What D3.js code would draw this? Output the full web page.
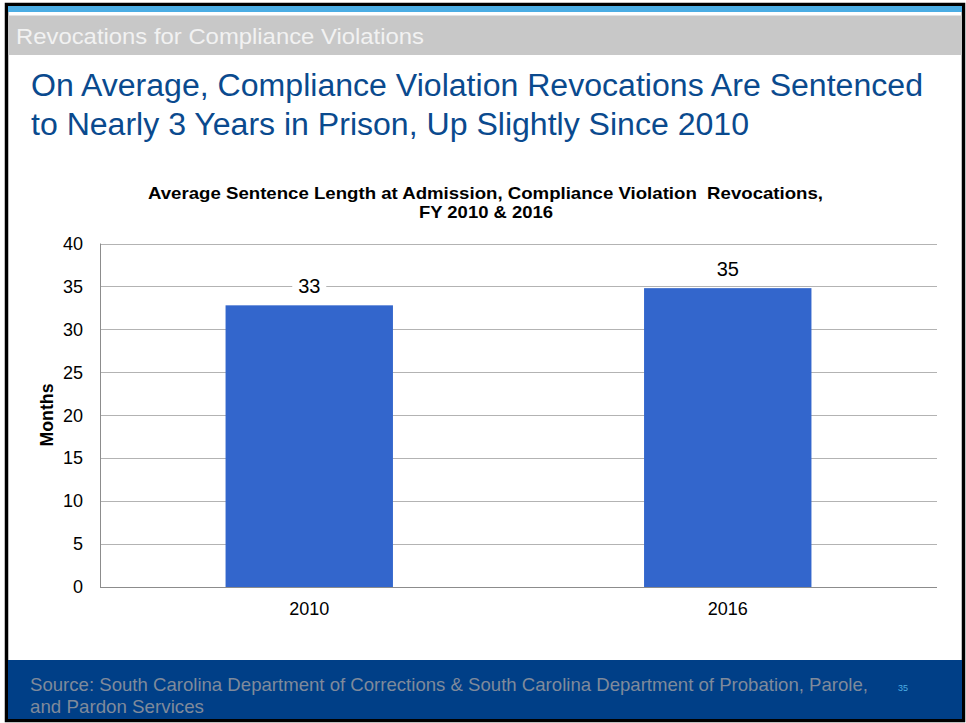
<!DOCTYPE html>
<html><head><meta charset="utf-8">
<script src="https://cdn.jsdelivr.net/npm/d3@7"></script>
<style>body{margin:0;background:#fff}svg{display:block;font-family:"Liberation Sans",Arial,sans-serif}</style>
</head><body>
<script>
const categories = ["2010", "2016"];
const values = [32.8, 34.8];
const labels = ["33", "35"];
const yTicks = [0, 5, 10, 15, 20, 25, 30, 35, 40];

const W = 966, H = 723;
const svg = d3.select("body").append("svg").attr("width", W).attr("height", H);

function fit(sel, len) { return sel.attr("textLength", len).attr("lengthAdjust", "spacingAndGlyphs"); }

// slide frame
svg.append("rect").attr("x", 0).attr("y", 0).attr("width", W).attr("height", H).attr("fill", "#fff");
svg.append("rect").attr("x", 6.5).attr("y", 4.5).attr("width", 957).attr("height", 716).attr("fill", "none").attr("stroke", "#000").attr("stroke-width", 3.5);
svg.append("rect").attr("x", 8).attr("y", 6).attr("width", 954).attr("height", 6).attr("fill", "#4badE4");
svg.append("rect").attr("x", 8).attr("y", 15.5).attr("width", 954).attr("height", 39.5).attr("fill", "#c8c8c8");
fit(svg.append("text").attr("x", 16).attr("y", 44).attr("font-size", 22).attr("fill", "#f2f2f2")
  .text("Revocations for Compliance Violations"), 408);

// title
const title = svg.append("g").attr("font-size", 31).attr("fill", "#0a4a8e");
fit(title.append("text").attr("x", 31).attr("y", 96).text("On Average, Compliance Violation Revocations Are Sentenced"), 892);
fit(title.append("text").attr("x", 31).attr("y", 135).text("to Nearly 3 Years in Prison, Up Slightly Since 2010"), 718);

// footer
svg.append("rect").attr("x", 8).attr("y", 660).attr("width", 954).attr("height", 59).attr("fill", "#003f87");
const foot = svg.append("g").attr("font-size", 18.5).attr("fill", "#7f8a9b");
fit(foot.append("text").attr("x", 30).attr("y", 691).text("Source: South Carolina Department of Corrections & South Carolina Department of Probation, Parole,"), 838);
fit(foot.append("text").attr("x", 30).attr("y", 713).text("and Pardon Services"), 174);
svg.append("text").attr("x", 898).attr("y", 691).attr("font-size", 9).attr("fill", "#4badE4").text("35");

// chart
const pL = 100, pR = 937, pT = 243.5, pB = 587;
const x = d3.scaleBand().domain(categories).range([pL, pR]).padding(0);
const y = d3.scaleLinear().domain([0, 40]).range([pB, pT]);

const ct = svg.append("g").attr("font-size", 17).attr("font-weight", "bold").attr("fill", "#000");
fit(ct.append("text").attr("x", 148).attr("y", 199).style("white-space", "pre")
  .text("Average Sentence Length at Admission, Compliance Violation  Revocations,"), 675);
fit(ct.append("text").attr("x", 419).attr("y", 217.5).text("FY 2010 & 2016"), 134);

// gridlines
svg.append("g").selectAll("line").data(yTicks.filter(d => d > 0)).join("line")
  .attr("x1", pL).attr("x2", pR).attr("y1", d => Math.round(y(d)) + 0.5).attr("y2", d => Math.round(y(d)) + 0.5)
  .attr("stroke", "#b3b3b3").attr("stroke-width", 1);

// y axis
const yAxis = svg.append("g").attr("transform", `translate(${pL},0)`)
  .call(d3.axisLeft(y).tickValues(yTicks).tickSize(0).tickPadding(17));
yAxis.select(".domain").remove();
yAxis.selectAll("text").attr("font-size", 18).attr("fill", "#000").attr("font-family", "Liberation Sans, Arial, sans-serif");

// bars
const barW = x.bandwidth() * 0.4;
svg.append("g").selectAll("rect").data(categories).join("rect")
  .attr("x", d => x(d) + (x.bandwidth() - barW) / 2)
  .attr("y", (d, i) => y(values[i]))
  .attr("width", barW)
  .attr("height", (d, i) => pB - y(values[i]))
  .attr("fill", "#3366cc");

// axis lines
svg.append("line").attr("x1", pL + 0.5).attr("x2", pL + 0.5).attr("y1", pT).attr("y2", pB).attr("stroke", "#8c8c8c");
svg.append("line").attr("x1", pL).attr("x2", pR).attr("y1", pB + 0.5).attr("y2", pB + 0.5).attr("stroke", "#8c8c8c");

// x axis
const xAxis = svg.append("g").attr("transform", `translate(0,${pB})`)
  .call(d3.axisBottom(x).tickSize(0).tickPadding(15));
xAxis.select(".domain").remove();
xAxis.selectAll("text").attr("font-size", 18).attr("fill", "#000").attr("font-family", "Liberation Sans, Arial, sans-serif");

// data labels with white background
const lab = svg.append("g").selectAll("g").data(categories).join("g")
  .attr("transform", (d, i) => `translate(${x(d) + x.bandwidth() / 2},${y(values[i]) - 12})`);
lab.append("rect").attr("x", -17).attr("y", -18).attr("width", 34).attr("height", 23).attr("fill", "#fff");
lab.append("text").attr("text-anchor", "middle").attr("font-size", 20).attr("fill", "#000").text((d, i) => labels[i]);

// y title
fit(svg.append("text").attr("transform", "translate(53,415) rotate(-90)").attr("x", -31.5)
  .attr("font-size", 18).attr("font-weight", "bold").text("Months"), 63);
</script>
</body></html>
